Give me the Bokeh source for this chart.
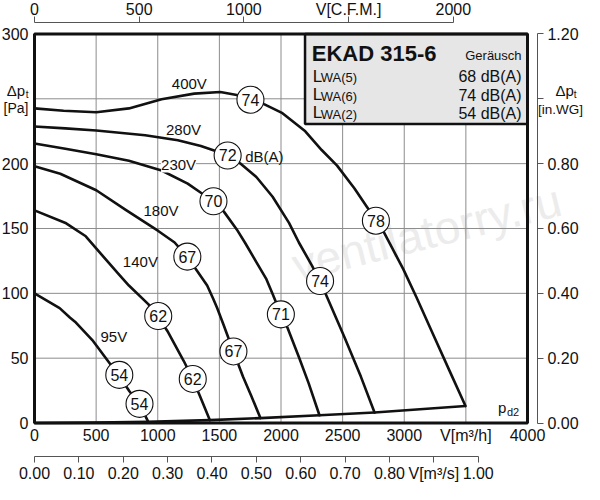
from bokeh.plotting import figure
from bokeh.models import Range1d, LinearAxis, FixedTicker, Label, PrintfTickFormatter
from bokeh.core.properties import value
from bokeh.embed import file_html
from bokeh.resources import INLINE

FONT = "Liberation Sans"
INK = "#111111"
GRID = "#8c8c8c"

# ---------------- data ----------------
X_MAX = 4000          # m3/h
Y_MAX = 300           # Pa
M3H_PER_CFM = 1.699
M3H_PER_M3S = 3600.0
PA_PER_INWG = 250.0

X_TICKS = [0, 500, 1000, 1500, 2000, 2500, 3000, 3500, 4000]
Y_TICKS = [0, 50, 100, 150, 200, 250, 300]
CFM_TICKS = [0, 500, 1000, 1500, 2000]
M3S_TICKS = [0.0, 0.1, 0.2, 0.3, 0.4, 0.5, 0.6, 0.7, 0.8, 0.9, 1.0]
INWG_TICKS = [0.0, 0.2, 0.4, 0.6, 0.8, 1.0, 1.2]

V400_X = [0, 236, 501, 766, 1031, 1296, 1508, 1641, 1752, 1866, 2012, 2197, 2330, 2455,
          2595, 2688, 2770, 2827, 2993, 3099, 3231, 3364, 3497]
V400_Y = [242.6, 240.8, 239.6, 242.6, 249.7, 254.0, 255.2, 253.0, 249.3, 245.7, 238.9, 224.9,
          210.5, 198.5, 181, 168, 156.5, 148.5, 118.5, 97, 69, 41, 13.1]

V280_X = [0, 250, 501, 898, 1163, 1350, 1469, 1565, 1668, 1800, 1932, 2065, 2145, 2250,
          2317, 2383, 2515, 2648, 2759]
V280_Y = [228.7, 227.2, 225.5, 221.9, 218.1, 213.6, 209.8, 206.0, 200.3, 189.7, 174.5, 154.3,
          139.2, 121.6, 109.5, 95.1, 66.1, 35.8, 8.1]

V230_X = [0, 250, 501, 766, 1031, 1243, 1350, 1450, 1535, 1641, 1707, 1800, 1879, 1932,
          1999, 2052, 2145, 2224, 2312]
V230_Y = [215.6, 211.5, 207.3, 202.2, 194.7, 184.6, 177.6, 171.0, 163.2, 149.3, 139.2, 124.1,
          111.4, 99.5, 83.8, 73.6, 50.9, 30.8, 6.0]

V180_X = [0, 209, 501, 740, 1004, 1137, 1242, 1317, 1401, 1449, 1482, 1533, 1614, 1692,
          1760, 1833]
V180_Y = [198.0, 192.2, 179.5, 164.4, 148.1, 139.2, 127.8, 117.6, 106.0, 96.0, 88.7, 76.0,
          55.2, 35.7, 20.7, 3.8]

V140_X = [0, 257, 416, 548, 681, 766, 925, 1003, 1078, 1210, 1284, 1343, 1423]
V140_Y = [164, 154, 144, 129.5, 115, 106, 91.5, 82, 71, 48, 34, 20.6, 2.2]

V95_X = [0, 204, 289, 336, 469, 602, 689, 770, 852, 922]
V95_Y = [100, 88.6, 81.2, 77.5, 64, 47, 36, 24.5, 14.6, 1.1]

PD2_X = [0, 500, 919, 1423, 1833, 2312, 2759, 3497]
PD2_Y = [0, 0.3, 1.0, 2.2, 3.8, 6.0, 8.1, 13.1]

CURVES = [("400V", V400_X, V400_Y), ("280V", V280_X, V280_Y), ("230V", V230_X, V230_Y),
          ("180V", V180_X, V180_Y), ("140V", V140_X, V140_Y), ("95V", V95_X, V95_Y)]

CIRCLE_X = [1752, 2770, 1567, 2317, 1452, 1999, 1240, 1614, 1004, 1284, 688, 852]
CIRCLE_Y = [249.3, 156.0, 206.3, 109.5, 171.0, 83.8, 128.3, 55.2, 82.5, 34.0, 37.1, 14.8]
CIRCLE_DB = ["74", "78", "72", "74", "70", "71", "67", "67", "62", "62", "54", "54"]

TITLE = "EKAD 315-6"
NOISE_HEADER = "Geräusch"
NOISE_KEYS = ["WA(5)", "WA(6)", "WA(2)"]
NOISE_VALUES = ["68 dB(A)", "74 dB(A)", "54 dB(A)"]

# ---------------- figure ----------------
W, H = 584, 484
X0, X1 = -275.9, 4462.5
Y0, Y1 = -47.4, 325.8
TOP_AXIS_AT = 308.9       # Pa coordinate of the CFM axis line
BOTTOM_AXIS_AT = -25.8    # Pa coordinate of the m3/s axis line
RIGHT_AXIS_AT = 4081      # m3/h coordinate of the in.WG axis line

p = figure(width=W, height=H, x_range=Range1d(X0, X1), y_range=Range1d(Y0, Y1),
           output_backend="svg", toolbar_location=None, title=None,
           min_border=0, min_border_left=0, min_border_right=0,
           min_border_top=0, min_border_bottom=0)
p.outline_line_color = None
p.background_fill_color = "white"
p.border_fill_color = "white"
p.xgrid.visible = False
p.ygrid.visible = False

p.extra_x_ranges = {"cfm": Range1d(X0 / M3H_PER_CFM, X1 / M3H_PER_CFM),
                    "m3s": Range1d(X0 / M3H_PER_M3S, X1 / M3H_PER_M3S)}
p.extra_y_ranges = {"inwg": Range1d(Y0 / PA_PER_INWG, Y1 / PA_PER_INWG)}


def style_axis(ax, standoff, tick_out=0, line=False):
    ax.major_label_text_font = FONT
    ax.major_label_text_font_size = "16px"
    ax.major_label_text_color = INK
    ax.major_label_standoff = standoff
    ax.minor_tick_line_color = None
    ax.major_tick_in = 0
    ax.major_tick_out = tick_out
    if line:
        ax.axis_line_color = "#555555"
        ax.axis_line_width = 1
        ax.major_tick_line_color = "#555555"
        ax.major_tick_line_width = 1
    else:
        ax.axis_line_color = None
        ax.major_tick_line_color = None


main_x = p.xaxis[0]
main_y = p.yaxis[0]
main_x.ticker = FixedTicker(ticks=X_TICKS)
main_x.major_label_overrides = {3500: "V[m³/h]"}
main_x.fixed_location = 0
style_axis(main_x, 4)

main_y.ticker = FixedTicker(ticks=Y_TICKS)
main_y.major_label_overrides = {250: ""}
main_y.fixed_location = 0
style_axis(main_y, 6)

top = LinearAxis(x_range_name="cfm", ticker=FixedTicker(ticks=CFM_TICKS),
                 major_label_overrides={1500: "V[C.F.M.]"}, bounds=(0, 2000),
                 fixed_location=TOP_AXIS_AT)
style_axis(top, -2, 6, True)
p.add_layout(top, "above")

bot = LinearAxis(x_range_name="m3s", ticker=FixedTicker(ticks=M3S_TICKS),
                 formatter=PrintfTickFormatter(format="%.2f"),
                 major_label_overrides={0.9: "V[m³/s]"}, bounds=(0, 1.0),
                 fixed_location=BOTTOM_AXIS_AT)
style_axis(bot, 3, 6, True)
p.add_layout(bot, "below")

right = LinearAxis(y_range_name="inwg", ticker=FixedTicker(ticks=INWG_TICKS),
                   formatter=PrintfTickFormatter(format="%.2f"),
                   major_label_overrides={1.0: ""}, bounds=(0, 1.2),
                   fixed_location=RIGHT_AXIS_AT)
style_axis(right, 4, 6, True)
p.add_layout(right, "right")


def lab(x, y, text, size, align="left", bold=False, bg=None,
        color=INK, angle=0, level=None):
    kw = {}
    if level:
        kw["level"] = level
    l = Label(x=x, y=y, text=text, text_font=FONT, text_font_size=f"{size}px",
              text_align=align, text_baseline="middle", text_color=color,
              text_font_style="bold" if bold else "normal",
              background_fill_color=bg, angle=angle, angle_units="deg", **kw)
    p.add_layout(l)


# watermark
lab(3181, 146.8, "ventilatorry.ru", 46, align="center", color="#ececec", angle=14, level="image")

# grid inside the chart box
gx = [t for t in X_TICKS if 0 < t < X_MAX]
gy = [t for t in Y_TICKS if 0 < t < Y_MAX]
p.segment(x0=gx, x1=gx, y0=[0] * len(gx), y1=[Y_MAX] * len(gx), line_color=GRID, line_width=1)
p.segment(x0=[0] * len(gy), x1=[X_MAX] * len(gy), y0=gy, y1=gy, line_color=GRID, line_width=1)

# curves
for name, xs, ys in CURVES:
    p.line(xs, ys, line_color=INK, line_width=2.6, line_join="round", line_cap="round")
p.line(PD2_X, PD2_Y, line_color=INK, line_width=2.6, line_join="round")

# info box
BOX_LEFT, BOX_BOTTOM = 2195, 230.6
p.quad(left=[BOX_LEFT], right=[X_MAX], bottom=[BOX_BOTTOM], top=[Y_MAX],
       fill_color="#e6e6e6", line_color=INK, line_width=2.5)

# frame
p.quad(left=[0], right=[X_MAX], bottom=[0], top=[Y_MAX], fill_color=None,
       line_color=INK, line_width=3)

# sound circles
p.scatter(CIRCLE_X, CIRCLE_Y, marker="circle", size=27, fill_color="white",
          line_color=INK, line_width=1.1)
p.text(CIRCLE_X, CIRCLE_Y, text=CIRCLE_DB, text_font=value(FONT), text_font_size="16px",
       text_align="center", text_baseline="middle", text_color=INK)

# curve labels
LABEL_POS = {"400V": (1256, 261.8), "280V": (1209, 226.3), "230V": (1169, 199.7),
             "180V": (1026, 164.2), "140V": (859, 124.8), "95V": (644, 66.6)}
for name, xs, ys in CURVES:
    lx, ly = LABEL_POS[name]
    lab(lx, ly, name, 15, align="center", bg="white" if name == "230V" else None)
lab(1710, 205.8, "dB(A)", 15)

# pd2
lab(3761, 12.3, "p", 15)
lab(3833, 8.2, "d2", 11)

# box texts
lab(2250, 285.2, TITLE, 22, bold=True)
lab(3952, 283.6, NOISE_HEADER, 13, align="right")
ROW_Y = [267.1, 252.7, 238.9]
for yc, k, v in zip(ROW_Y, NOISE_KEYS, NOISE_VALUES):
    lab(2258, yc + 0.3, "L", 17)
    lab(2322, yc - 0.8, k, 13)
    lab(3952, yc, v, 16, align="right")

# axis titles (delta p)
lab(-77, 256.5, "Δp", 15, align="right")
lab(-48.7, 253.3, "t", 10, align="right")
lab(-48.7, 242.9, "[Pa]", 14, align="right")
lab(4227, 256.5, "Δp", 15)
lab(4376, 253.3, "t", 10)
lab(4268, 241.5, "[in.WG]", 13.5, align="center")

open("out.html", "w").write(file_html(p, INLINE))
